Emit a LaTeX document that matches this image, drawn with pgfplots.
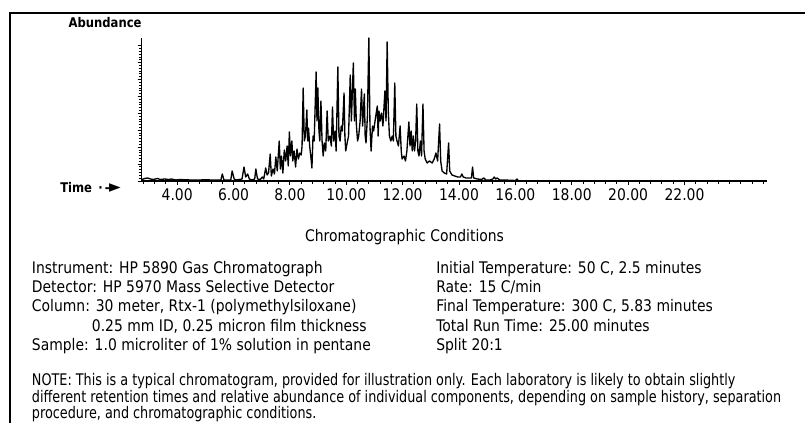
\documentclass[border=0pt]{standalone}
\usepackage{fontspec}
\setmainfont{DejaVu Sans}[FakeStretch=0.87]
\newfontfamily\notefont{DejaVu Sans}[FakeStretch=0.80]
\usepackage{pgfplots}
\usepackage{pgfplotstable}
\pgfplotsset{compat=1.18}
\pgfplotstableread{
t h
2.74 1.5
2.85 2.5
2.95 3
3.05 2
3.15 1.5
3.3 2.5
3.4 1.5
3.55 2
3.7 1.5
3.8 2
3.95 1
4.1 1.5
4.3 1.2
4.5 1
4.8 1
5.0 1.3
5.2 1
5.55 1
5.6 7
5.66 1
5.9 1
5.95 10
6.02 2
6.1 1
6.3 2
6.37 14
6.43 4
6.5 7
6.56 2
6.65 1
6.75 2
6.79 12
6.85 2
6.95 1.5
7.02 4
7.07 2
7.14 13
7.19 6
7.24 8
7.30 27
7.34 5
7.4 12
7.45 7
7.5 24
7.55 10
7.62 40
7.66 12
7.7 25
7.75 8
7.8 31
7.85 20
7.9 35
7.94 15
7.98 49
8.02 25
8.07 40
8.1 20
8.15 30
8.2 14
8.25 32
8.3 22
8.35 28
8.4 26
8.43 35
8.47 93
8.51 40
8.55 45
8.6 71
8.63 40
8.66 53
8.7 35
8.75 22
8.78 13
8.82 45
8.86 40
8.93 109
8.96 60
8.99 93
9.03 50
9.06 40
9.1 80
9.14 40
9.18 25
9.22 38
9.27 30
9.32 70
9.36 40
9.42 45
9.47 35
9.51 74
9.55 40
9.6 50
9.64 30
9.70 114
9.74 45
9.78 40
9.82 55
9.86 50
9.92 88
9.95 45
9.98 30
10.03 38
10.08 45
10.14 106
10.18 60
10.25 118
10.29 60
10.32 92
10.36 55
10.4 40
10.44 45
10.49 60
10.54 92
10.58 55
10.64 87
10.67 45
10.7 38
10.75 65
10.80 143
10.84 55
10.88 30
10.93 55
10.97 50
11.02 60
11.10 75
11.13 45
11.16 70
11.2 60
11.25 68
11.3 55
11.37 90
11.41 60
11.45 139
11.49 70
11.53 45
11.58 40
11.63 45
11.67 40
11.72 98
11.76 45
11.8 40
11.85 35
11.91 55
11.95 30
11.98 22
12.05 25
12.1 20
12.15 30
12.22 59
12.26 35
12.3 50
12.34 30
12.38 45
12.42 30
12.46 40
12.50 77
12.54 30
12.58 25
12.63 40
12.67 25
12.72 77
12.76 30
12.8 22
12.87 18
12.95 20
13.05 18
13.12 22
13.18 28
13.24 20
13.31 57
13.35 20
13.4 10
13.48 8
13.56 7
13.63 38
13.67 10
13.75 6
13.85 5
13.95 4
14.05 4
14.1 7
14.15 4
14.25 3
14.35 3
14.44 3
14.48 14
14.52 3
14.65 2
14.8 1.5
14.88 3
14.95 1
15.1 1
15.2 2
15.25 4
15.3 2
15.35 3
15.45 1
15.6 1
16.0 0.5
16.06 2
16.1 0.3
16.3 0
}\chrom
\begin{document}
\begin{tikzpicture}[x=0.75pt,y=-0.75pt]
\useasboundingbox (0,0) rectangle (805,423);
\draw[line width=1.5pt] (9.5,450) -- (9.5,12.8) -- (830,12.8);
\coordinate (O) at (141.7,181);
\begin{axis}[
  at={(O)}, anchor=south west,
  scale only axis, width=469pt, height=107.25pt,
  xmin=2.74, xmax=24.93, ymin=0, ymax=143,
  axis x line*=bottom, axis y line*=left,
  axis line style={line width=0.9pt},
  xtick={4,6,8,10,12,14,16,18,20,22},
  xticklabels={4.00,6.00,8.00,10.00,12.00,14.00,16.00,18.00,20.00,22.00},
  minor xtick={2.8,3.2,3.6,4.4,4.8,5.2,5.6,6.4,6.8,7.2,7.6,8.4,8.8,9.2,9.6,10.4,10.8,11.2,11.6,12.4,12.8,13.2,13.6,14.4,14.8,15.2,15.6,16.4,16.8,17.2,17.6,18.4,18.8,19.2,19.6,20.4,20.8,21.2,21.6,22.4,22.8,23.2,23.6,24.0,24.4,24.8},
  ytick={0,16.9,33.8,50.7,67.6,84.5,101.4,118.3,135.2},
  yticklabels={},
  minor y tick num=5,
  tick align=outside,
  major tick length=3pt, minor tick length=2.4pt,
  tick style={line width=0.7pt, black},
  xticklabel style={font=\fontsize{12}{14}\selectfont, inner sep=1pt, yshift=-1.5pt},
  clip=false,
]
\addplot[black, line width=1pt, line join=round] table[x=t,y=h] {\chrom};
\end{axis}
\node[anchor=west, inner sep=0, font=\bfseries\fontsize{10}{12}\selectfont] at (68.3,23) {Abundance};
\node[anchor=west, inner sep=0, font=\bfseries\fontsize{10}{12}\selectfont] at (60,188) {Time\, ∙\,-\kern-0.5pt{\fontsize{13}{14}\selectfont ►}};
\begin{scope}[every node/.style={inner sep=0, font=\fontsize{12}{14}\selectfont}]
\node[anchor=base] at (404.5,242) {Chromatographic Conditions};
\node[anchor=base west] at (31.7,273.3) {Instrument: HP 5890 Gas Chromatograph};
\node[anchor=base west] at (31.7,292.6) {Detector: HP 5970 Mass Selective Detector};
\node[anchor=base west] at (31.7,311.9) {Column: 30 meter, Rtx-1 (polymethylsiloxane)};
\node[anchor=base west] at (91.7,331.2) {0.25 mm ID, 0.25 micron film thickness};
\node[anchor=base west] at (31.7,350.5) {Sample: 1.0 microliter of 1\% solution in pentane};
\node[anchor=base west] at (436,273.3) {Initial Temperature: 50 C, 2.5 minutes};
\node[anchor=base west] at (436,292.6) {Rate: 15 C/min};
\node[anchor=base west] at (436,311.9) {Final Temperature: 300 C, 5.83 minutes};
\node[anchor=base west] at (436,331.2) {Total Run Time: 25.00 minutes};
\node[anchor=base west] at (436,350.5) {Split 20:1};
\end{scope}
\begin{scope}[every node/.style={inner sep=0, font=\notefont\fontsize{12}{14}\selectfont}]
\node[anchor=base west] at (31.7,385.2) {NOTE: This is a typical chromatogram, provided for illustration only. Each laboratory is likely to obtain slightly};
\node[anchor=base west] at (31.7,402.2) {different retention times and relative abundance of individual components, depending on sample history, separation};
\node[anchor=base west] at (31.7,418.8) {procedure, and chromatographic conditions.};
\end{scope}
\end{tikzpicture}
\end{document}
